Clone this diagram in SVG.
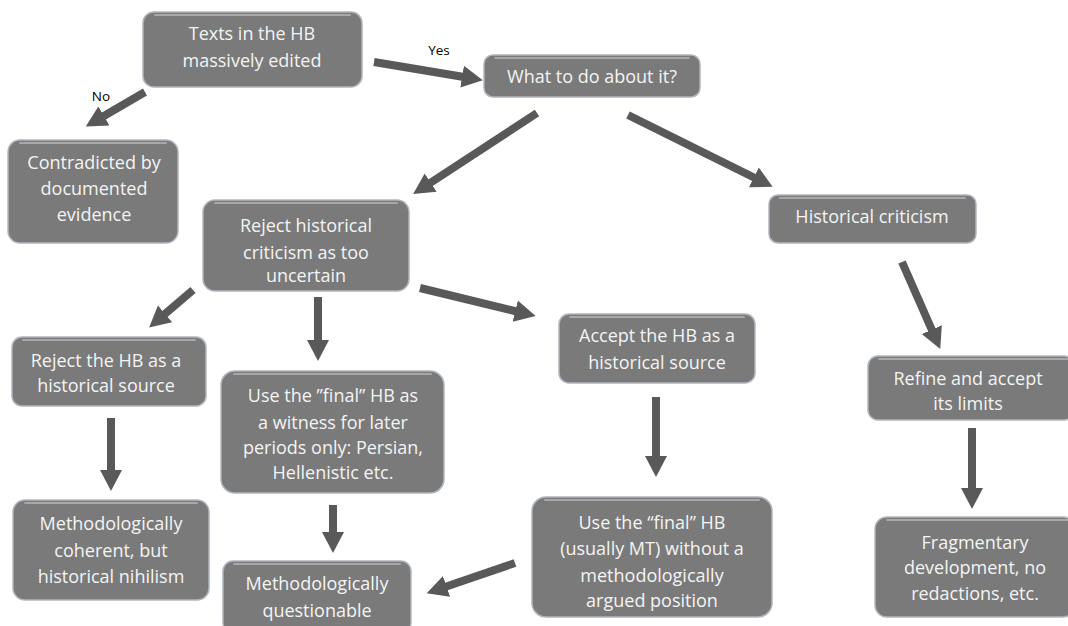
<svg xmlns="http://www.w3.org/2000/svg" width="1068" height="626" viewBox="0 0 1068 626">
<style>
.box{fill:#7a7a7a;stroke:#aeb6be;stroke-width:1.5}
.hl{fill:none;stroke:#a8a8a8;stroke-width:2;stroke-linecap:round}
.t{font-family:"Open Sans","Noto Sans",sans-serif;font-size:18px;fill:#f4f4f4;text-anchor:middle}
.lbl{font-family:"Open Sans","Noto Sans",sans-serif;font-size:13.5px;fill:#000;text-anchor:middle}
.c line{stroke:#595959;stroke-width:8;marker-end:url(#ah)}
</style>
<defs>
<marker id="ah" markerUnits="userSpaceOnUse" markerWidth="22" markerHeight="24" refX="8" refY="12" orient="auto">
<path d="M0,1 L21,12 L0,23 z" fill="#595959"/>
</marker>
</defs>
<rect width="1068" height="626" fill="#fff"/>
<g class="c" id="connectors">
<line x1="374" y1="62" x2="470" y2="78"/>
<line x1="145" y1="92" x2="97" y2="120"/>
<line x1="537" y1="113" x2="424" y2="187"/>
<line x1="628" y1="115" x2="761" y2="181"/>
<line x1="193" y1="290" x2="159" y2="319"/>
<line x1="318" y1="297" x2="318" y2="348"/>
<line x1="420" y1="288" x2="523" y2="313"/>
<line x1="111" y1="418" x2="111" y2="478"/>
<line x1="333" y1="505" x2="333" y2="540"/>
<line x1="656" y1="397" x2="656" y2="464"/>
<line x1="515" y1="563" x2="439" y2="589"/>
<line x1="902" y1="262" x2="935" y2="337"/>
<line x1="972" y1="428" x2="972" y2="496"/>
</g>
<g id="labels">
<text class="lbl" x="439" y="55">Yes</text>
<text class="lbl" x="101" y="101">No</text>
</g>
<g id="n1"><rect class="box" x="143" y="12" width="219" height="75" rx="11"/><path class="hl" d="M155,15 H350"/>
<text class="t" x="252" y="40">Texts in the HB</text><text class="t" x="252" y="67">massively edited</text></g>
<g id="n2"><rect class="box" x="484" y="55" width="216" height="42" rx="9"/><path class="hl" d="M495,58 H689"/>
<text class="t" x="592" y="83">What to do about it?</text></g>
<g id="n3"><rect class="box" x="8" y="140" width="170" height="103" rx="12"/><path class="hl" d="M20,143 H166"/>
<text class="t" x="94" y="169">Contradicted by</text><text class="t" x="94" y="195">documented</text><text class="t" x="94" y="221">evidence</text></g>
<g id="n4"><rect class="box" x="203" y="200" width="206" height="91" rx="12"/><path class="hl" d="M215,203 H397"/>
<text class="t" x="306" y="232">Reject historical</text><text class="t" x="306" y="259">criticism as too</text><text class="t" x="306" y="282">uncertain</text></g>
<g id="n5"><rect class="box" x="769" y="195" width="207" height="48" rx="9"/><path class="hl" d="M780,198 H965"/>
<text class="t" x="872" y="223">Historical criticism</text></g>
<g id="n6"><rect class="box" x="12" y="337" width="194" height="69" rx="10"/><path class="hl" d="M23,340 H195"/>
<text class="t" x="106" y="367">Reject the HB as a</text><text class="t" x="106" y="392">historical source</text></g>
<g id="n7"><rect class="box" x="221" y="371" width="223" height="122" rx="14"/><path class="hl" d="M234,374 H431"/>
<text class="t" x="333" y="402">Use the ”final” HB as</text><text class="t" x="333" y="429">a witness for later</text><text class="t" x="333" y="454">periods only: Persian,</text><text class="t" x="333" y="479">Hellenistic etc.</text></g>
<g id="n8"><rect class="box" x="559" y="314" width="196" height="69" rx="10"/><path class="hl" d="M570,317 H744"/>
<text class="t" x="657" y="342">Accept the HB as a</text><text class="t" x="657" y="369">historical source</text></g>
<g id="n9"><rect class="box" x="532" y="497" width="240" height="120" rx="14"/><path class="hl" d="M545,500 H759"/>
<text class="t" x="652" y="529">Use the “final” HB</text><text class="t" x="652" y="555">(usually MT) without a</text><text class="t" x="652" y="582">methodologically</text><text class="t" x="652" y="607">argued position</text></g>
<g id="n10"><rect class="box" x="13" y="500" width="196" height="100" rx="12"/><path class="hl" d="M25,503 H197"/>
<text class="t" x="111" y="530">Methodologically</text><text class="t" x="111" y="557">coherent, but</text><text class="t" x="111" y="583">historical nihilism</text></g>
<g id="n11"><rect class="box" x="223" y="561" width="188" height="72" rx="10"/><path class="hl" d="M234,564 H400"/>
<text class="t" x="317" y="590">Methodologically</text><text class="t" x="317" y="617">questionable</text></g>
<g id="n12"><rect class="box" x="868" y="356" width="206" height="64" rx="10"/><path class="hl" d="M879,359 H1068"/>
<text class="t" x="968" y="385">Refine and accept</text><text class="t" x="968" y="410">its limits</text></g>
<g id="n13"><rect class="box" x="875" y="517" width="200" height="100" rx="12"/><path class="hl" d="M887,520 H1068"/>
<text class="t" x="975" y="549">Fragmentary</text><text class="t" x="975" y="574">development, no</text><text class="t" x="975" y="600">redactions, etc.</text></g>
</svg>
